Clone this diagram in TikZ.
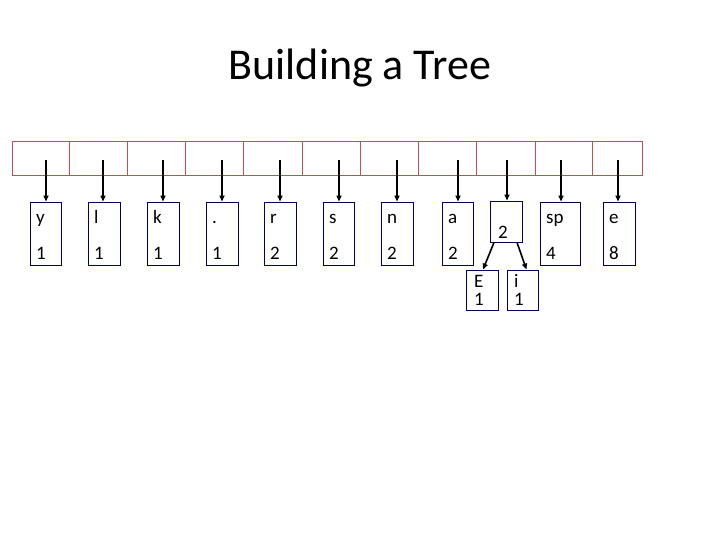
\documentclass[tikz,border=0pt]{standalone}
\usepackage{fontspec}
\setmainfont{Carlito}
\usetikzlibrary{arrows.meta}
\begin{document}
\begin{tikzpicture}[x=1pt,y=-1pt,
  cell/.style={draw={rgb,255:red,192;green,80;blue,77},line width=0.8pt,minimum height=34pt,inner sep=0pt},
  leaf/.style={draw={rgb,255:red,0;green,0;blue,100},line width=0.9pt,inner sep=0pt},
  lbl/.style={font=\fontsize{19}{19}\selectfont,anchor=base west,inner sep=0pt},
  arr/.style={-{Triangle[length=6pt,width=5pt]},line width=1.6pt}]
\useasboundingbox (0,0) rectangle (720,540);
\node[font=\fontsize{44}{44}\selectfont,anchor=base] (title) at (360,80) {Building a Tree};
% cells
\foreach \a/\b [count=\i] in {12/69,69/127,127/185,185/243,243/302,302/360,360/418,418/476,476/535,535/592,592/642}{
  \pgfmathsetmacro{\w}{\b-\a}
  \node[cell,minimum width=\w pt] (c\i) at ({(\a+\b)/2},158) {};
}
% leaves
\foreach \n/\l/\r/\t/\v/\ax in {y/30/61/y/1/46,l/88/120/l/1/103,k/147/179/k/1/163,d/206/238/./1/222,r/264/296/r/2/280,s/323/354/s/2/339,n/381/413/n/2/397,a/442/473/a/2/458,sp/540/580/sp/4/561,e/603/635/e/8/618}{
  \pgfmathsetmacro{\w}{\r-\l}
  \node[leaf,minimum width=\w pt,minimum height=63pt] (\n) at ({(\l+\r)/2},233.5) {};
  \node[lbl] (\n t) at (\l+6,224) {\t};
  \node[lbl] (\n v) at (\l+6,259) {\v};
  \coordinate (s\n) at (\ax,160);
  \draw[arr] (s\n) -- (s\n |- \n.north);
}
\node[leaf,minimum width=32pt,minimum height=41pt] (two) at (506,221.5) {};
\node[lbl] (twov) at (498,239) {2};
\coordinate (stwo) at (507,160);
\draw[arr] (stwo) -- (stwo |- two.north);
\node[leaf,minimum width=32pt,minimum height=40pt] (E) at (482,290) {};
\node[lbl] (Et) at (474,287) {E};
\node[lbl] (Ev) at (474,305) {1};
\node[leaf,minimum width=31pt,minimum height=40pt] (i) at (522.5,290) {};
\node[lbl] (it) at (514,287) {i};
\node[lbl] (iv) at (514,305) {1};
\draw[arr] ([xshift=-12pt]two.south) -- ([xshift=1pt]E.north);
\draw[arr] ([xshift=11pt]two.south) -- ([xshift=4pt]i.north);
\end{tikzpicture}
\end{document}
